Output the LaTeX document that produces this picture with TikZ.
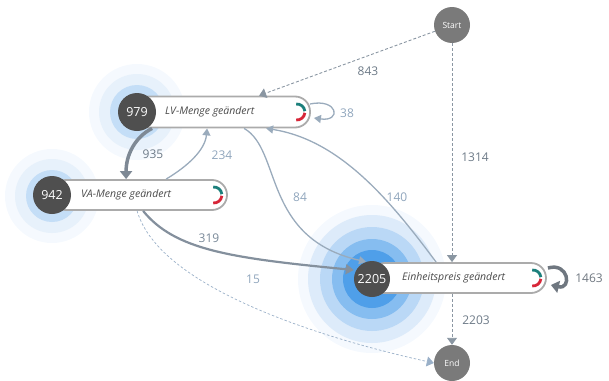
\documentclass[tikz,border=0pt]{standalone}
\usepackage{fontspec}
\setmainfont{Open Sans}
\usetikzlibrary{arrows.meta,calc}
\definecolor{edgec}{HTML}{9AABBC}
\definecolor{edgedark}{HTML}{7E8995}
\definecolor{loopdark}{HTML}{6F7780}
\definecolor{dashc}{HTML}{8A96A2}
\definecolor{dashlight}{HTML}{9AB0C8}
\definecolor{lbldark}{HTML}{6D7A87}
\definecolor{lbllight}{HTML}{8FA5BC}
\definecolor{pillborder}{HTML}{ABABAB}
\definecolor{numfill}{HTML}{4F4F4F}
\definecolor{termfill}{HTML}{7A7A7A}
\definecolor{teal}{HTML}{1B7F7B}
\definecolor{redc}{HTML}{D72638}
\definecolor{txtc}{HTML}{4A4A4A}
\definecolor{hA}{HTML}{F5F9FE}
\definecolor{hB}{HTML}{DDEBFA}
\definecolor{hC}{HTML}{BAD8F6}
\definecolor{hD}{HTML}{86BDF0}
\definecolor{hE}{HTML}{4F9FE9}
\tikzset{
  pill/.style={draw=pillborder, line width=1.8pt, fill=white, rounded corners=15pt, minimum height=31pt, inner sep=0pt},
  numc/.style={circle, fill=numfill, text=white, minimum size=38pt, inner sep=0pt, font=\fontsize{12.5}{13}\selectfont},
  term/.style={circle, fill=termfill, text=white, minimum size=36pt, inner sep=0pt, font=\fontsize{8.5}{9}\selectfont},
  acttext/.style={anchor=west, text=txtc, inner sep=0pt, font=\fontsize{10.5}{12}\selectfont\itshape},
  lbl/.style={inner sep=0pt, font=\fontsize{12}{13}\selectfont},
  lightedge/.style={draw=edgec, line width=1.3pt, -{Triangle[length=7pt,width=8pt]}},
  dashedge/.style={draw=dashc, line width=0.9pt, dash pattern=on 3pt off 2pt, -{Triangle[length=7pt,width=10pt]}},
  thickedge/.style={draw=edgedark, line width=3.5pt, -{Triangle[length=8pt,width=12pt]}},
  icon/.pic={
    \draw[teal, line width=2.8pt] (95:8pt) arc (95:6:8pt);
    \draw[redc, line width=2.8pt] (-6:8pt) arc (-6:-95:8pt);
  }
}
\begin{document}
\begin{tikzpicture}[x=1pt,y=-1pt]
\useasboundingbox (0,0) rectangle (609,380);
% halos
\fill[hA] (372,279) circle (74pt);
\fill[hB] (372,279) circle (64pt);
\fill[hC] (372,279) circle (52pt);
\fill[hD] (372,279) circle (40pt);
\fill[hE] (372,279) circle (29pt);
\fill[hA] (137,112) circle (48pt);
\fill[hB!70!white] (137,112) circle (38pt);
\fill[hC!85!white] (137,112) circle (27pt);
\fill[hA] (52,196) circle (47pt);
\fill[hB!70!white] (52,196) circle (37pt);
\fill[hC!85!white] (52,196) circle (26pt);
% terminals
\node[term] (start) at (452,25) {Start};
\node[term] (end) at (452,363) {End};
% pills
\node[pill, minimum width=176pt] (lv) at (222,112) {};
\node[pill, minimum width=176pt, minimum height=30pt] (va) at (139,195) {};
\node[pill, minimum width=176pt, minimum height=30pt] (ep) at (458,278) {};
\pic at ($(lv.east)+(-14,0)$) {icon};
\pic at ($(va.east)+(-14,0)$) {icon};
\pic at ($(ep.east)+(-14,0)$) {icon};
\node[numc] (lvn) at (137,112) {979};
\node[numc] (van) at (52,195) {942};
\node[numc, minimum size=36pt] (epn) at (372,279) {2205};
\node[acttext] (lvt) at (165,112) {LV-Menge geändert};
\node[acttext] (vat) at (81,195) {VA-Menge geändert};
\node[acttext] (ept) at (402,278) {Einheitspreis geändert};
% anchor coordinates
\coordinate (lvA) at ($(lv.south west)+(19,0)$);
\coordinate (lvB) at ($(lv.south west)+(74,0)$);
\coordinate (lvC) at ($(lv.south west)+(111,0)$);
\coordinate (lvD) at ($(lv.south west)+(133,0)$);
\coordinate (lvTop) at ($(lv.north west)+(126,0)$);
\coordinate (lvR1) at ($(lv.east)+(-1,-8)$);
\coordinate (lvR2) at ($(lv.east)+(3,6)$);
\coordinate (vaTop1) at ($(va.north west)+(76,0)$);
\coordinate (vaTop2) at ($(va.north west)+(116,0)$);
\coordinate (vaB1) at ($(va.south west)+(87,0)$);
\coordinate (vaB2) at ($(va.south west)+(93,0)$);
\coordinate (epTop) at ($(ep.north west)+(67,0)$);
\coordinate (epL) at ($(epn.west)+(0,-9)$);
\coordinate (epL2) at ($(epn.north)+(-6,1)$);
\coordinate (epR1) at ($(ep.east)+(1,-10)$);
\coordinate (epR2) at ($(ep.east)+(4,7)$);
% edges
\draw[dashedge] (start) -- (lvTop);
\draw[dashedge] (start.south) -- (start.south |- ep.north);
\draw[dashedge] (end.north |- ep.south) -- (end.north);
\draw[dashedge, draw=dashlight, line width=0.7pt, dash pattern=on 2.5pt off 2pt] (vaB1) .. controls (160,290) and (330,340) .. (end.west);
\draw[thickedge] (lvA) .. controls (135,137) and (126,155) .. (vaTop1);
\draw[lightedge] (vaTop2) .. controls (188,166) and (205,150) .. (lvB);
\draw[lightedge] (lvR1) .. controls (338,98) and (342,122) .. (lvR2);
\draw[lightedge] (lvC) .. controls (282,150) and (262,238) .. (epL2);
\draw[lightedge] (epTop) .. controls (390,200) and (340,140) .. (lvD);
\draw[lightedge, draw=edgedark!80!edgec, line width=2.2pt, -{Triangle[length=8pt,width=10pt]}] (vaB2) .. controls (175,250) and (230,258) .. (epL);
\draw[thickedge, draw=loopdark, -{Triangle[length=8pt,width=12pt]}] (epR1) .. controls (569,262) and (572,290) .. (epR2);
% labels
\node[lbl, text=lbldark] (l843) at (368,71) {843};
\node[lbl, text=lbldark] (l1314) at (475,157) {1314};
\node[lbl, text=lbldark] (l2203) at (476,320) {2203};
\node[lbl, text=lbldark] (l935) at (153,154) {935};
\node[lbl, text=lbllight] (l234) at (222,155) {234};
\node[lbl, text=lbllight] (l38) at (347,113) {38};
\node[lbl, text=lbllight] (l84) at (300,197) {84};
\node[lbl, text=lbllight] (l140) at (397,197) {140};
\node[lbl, text=lbldark!70!lbllight] (l319) at (209,238) {319};
\node[lbl, text=lbllight] (l15) at (253,279) {15};
\node[lbl, text=loopdark] (l1463) at (589,278) {1463};
\end{tikzpicture}
\end{document}
